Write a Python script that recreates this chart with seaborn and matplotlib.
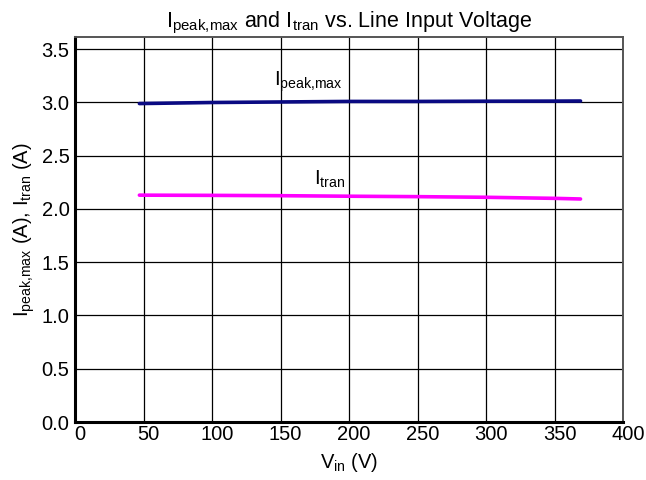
import matplotlib
matplotlib.use("Agg")
import matplotlib.pyplot as plt
import matplotlib.transforms as mtransforms
import seaborn as sns
import pandas as pd

vin = [47, 100, 150, 200, 250, 300, 350, 369]
ipeak_max = [2.99, 3.00, 3.005, 3.01, 3.01, 3.012, 3.013, 3.014]
itran = [2.13, 2.128, 2.125, 2.12, 2.116, 2.11, 2.10, 2.094]

xticks = [0, 50, 100, 150, 200, 250, 300, 350, 400]
yticks = [0.0, 0.5, 1.0, 1.5, 2.0, 2.5, 3.0, 3.5]

sns.set_theme(style="white")
plt.rcParams["font.family"] = ["Liberation Sans", "DejaVu Sans"]
plt.rcParams["mathtext.fontset"] = "custom"
plt.rcParams["mathtext.rm"] = "Liberation Sans"
plt.rcParams["mathtext.it"] = "Liberation Sans"

df = pd.DataFrame({
    "vin": vin + vin,
    "val": ipeak_max + itran,
    "series": ["peak"] * len(vin) + ["tran"] * len(vin),
})

fig = plt.figure(figsize=(6.46, 4.8), dpi=100)
ax = fig.add_axes([75 / 646, 58 / 480, 548 / 646, 385 / 480])

sns.lineplot(data=df, x="vin", y="val", hue="series",
             palette={"peak": "#0a0a82", "tran": "#ff00ff"},
             linewidth=2.6, legend=False, ax=ax, zorder=3)

FS = 14.5
ax.set_xlim(0, 400)
ax.set_ylim(0, 3.615)
ax.set_xticks(xticks)
ax.set_yticks(yticks)
ax.set_xticklabels([str(t) for t in xticks])
ax.set_yticklabels([f"{t:.1f}" for t in yticks])
ax.grid(True, color="black", linewidth=0.9)
ax.set_axisbelow(True)
ax.tick_params(axis="both", length=0, labelsize=FS, colors="black")
ax.tick_params(axis="x", pad=2)
ax.tick_params(axis="y", pad=4)

offset = mtransforms.ScaledTranslation(5 / 100, 0, fig.dpi_scale_trans)
for lbl in ax.get_xticklabels():
    lbl.set_transform(lbl.get_transform() + offset)

for side in ["left", "bottom"]:
    ax.spines[side].set_linewidth(2.2)
    ax.spines[side].set_color("black")
for side in ["top", "right"]:
    ax.spines[side].set_linewidth(1.4)
    ax.spines[side].set_color("#555555")
    ax.spines[side].set_visible(True)

ax.set_xlabel(r"V$_{\mathregular{in}}$ (V)", fontsize=FS, color="black", labelpad=5)
ax.set_ylabel(r"I$_{\mathregular{peak{,}max}}$ (A), I$_{\mathregular{tran}}$ (A)",
              fontsize=FS, color="black", labelpad=3)
ax.set_title(r"I$_{\mathregular{peak{,}max}}$ and I$_{\mathregular{tran}}$ vs. Line Input Voltage",
             fontsize=15.5, color="black", pad=7)

ax.text(170, 3.08, r"I$_{\mathregular{peak{,}max}}$", fontsize=FS, ha="center",
        va="bottom", color="black")
ax.text(186, 2.18, r"I$_{\mathregular{tran}}$", fontsize=FS, ha="center",
        va="bottom", color="black")

fig.savefig("out.png", dpi=100)
